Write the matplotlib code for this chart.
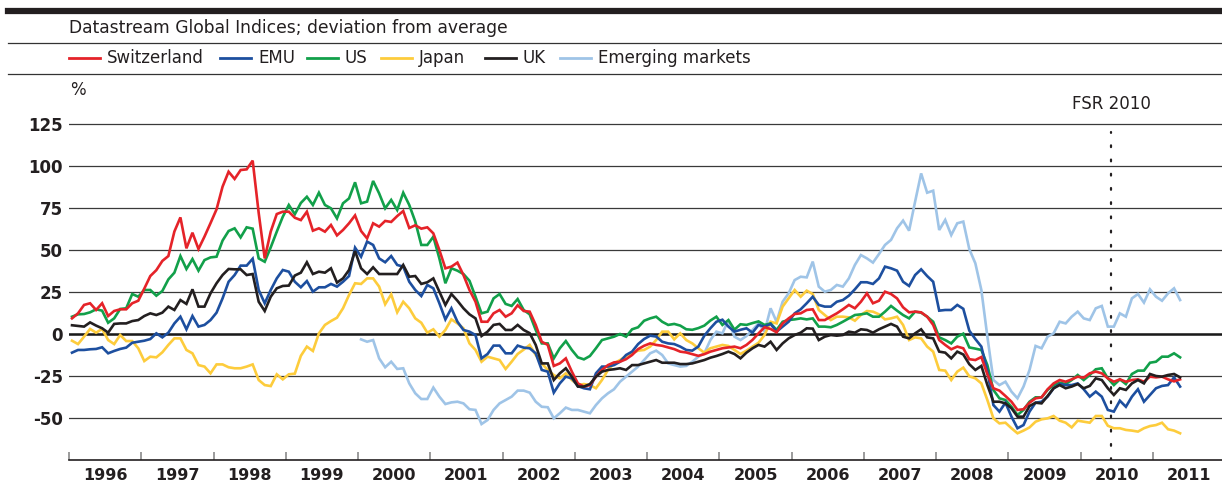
import numpy as np
import matplotlib.pyplot as plt
from matplotlib.lines import Line2D

# Monthly deviation from average (%), Datastream Global Indices
# first five series start Jan 1996, emerging markets starts Jan 2000
switzerland = [
    9.3, 12.3, 17.3, 18.3, 14.3, 18.3, 10.7, 13.7, 14.7, 14.7, 18.3, 19.8,
    27.0, 34.5, 38.0, 43.5, 46.4, 61.0, 69.4, 51.0, 60.3, 50.6, 58.0, 66.0,
    74.2, 87.7, 96.6, 92.3, 97.6, 98.0, 103.2, 72.0, 45.0, 61.0, 71.4, 72.8,
    72.8, 69.2, 67.8, 72.8, 61.5, 62.9, 60.9, 64.9, 58.7, 61.9, 65.9, 70.6,
    61.3, 56.9, 65.9, 63.9, 67.3, 66.7, 70.2, 73.2, 63.1, 64.7, 62.7, 63.5,
    59.9, 50.0, 39.1, 40.1, 42.5, 35.1, 26.2, 19.2, 7.3, 7.3, 12.3, 14.3,
    10.3, 12.3, 17.1, 13.7, 13.3, 5.4, -4.6, -6.5, -19.0, -17.5, -14.5, -22.4,
    -29.4, -31.3, -30.4, -25.4, -21.4, -18.5, -16.9, -16.5, -15.0, -12.5, -9.0, -7.0,
    -5.6, -6.5, -7.0, -8.0, -9.0, -10.5, -11.0, -12.0, -13.0, -12.0, -10.5, -9.5,
    -8.5, -8.0, -7.5, -8.5, -6.5, -3.5, 0.4, 4.0, 3.0, 1.0, 6.3, 9.3,
    11.9, 12.3, 14.3, 14.7, 8.3, 8.3, 10.3, 12.3, 14.7, 17.3, 15.3, 19.2,
    24.2, 18.3, 19.8, 25.2, 23.8, 21.2, 15.9, 12.9, 13.3, 12.9, 10.3, 5.4,
    -3.6, -6.5, -9.1, -7.5, -8.5, -15.0, -15.5, -13.7, -24.0, -32.3, -33.7, -36.9,
    -40.3, -45.2, -44.8, -40.9, -38.3, -37.7, -32.9, -29.4, -27.4, -28.4, -27.0, -25.4,
    -26.0, -23.4, -22.4, -23.4, -26.4, -28.4, -27.0, -28.4, -27.4, -27.0, -28.4, -25.4,
    -25.8, -25.4, -27.0, -28.2, -27.0,
]

emu = [
    -11.1, -9.5, -9.5, -9.1, -8.9, -7.9, -11.5, -10.1, -8.9, -8.1, -5.2, -4.6,
    -4.0, -3.0, 0.4, -2.0, 0.8, 6.3, 10.3, 2.8, 10.7, 4.4, 5.4, 8.3,
    12.7, 21.2, 31.1, 35.1, 40.7, 40.7, 44.8, 26.2, 18.3, 26.2, 33.1, 38.1,
    37.1, 31.1, 27.8, 31.5, 25.2, 27.8, 27.8, 29.8, 28.2, 31.1, 34.5, 51.4,
    46.0, 55.0, 53.0, 45.0, 42.7, 46.4, 41.1, 40.1, 31.1, 26.2, 22.6, 29.2,
    27.2, 18.3, 8.7, 15.3, 7.3, 2.4, 1.4, -0.6, -14.5, -11.9, -6.9, -6.9,
    -11.5, -11.5, -6.9, -8.1, -8.5, -11.5, -21.4, -22.4, -34.9, -29.4, -25.4, -26.4,
    -31.0, -32.3, -32.9, -23.4, -19.4, -19.4, -18.5, -16.5, -12.5, -10.5, -6.0, -3.0,
    -1.0, -1.5, -4.6, -5.6, -6.0, -7.5, -9.5, -9.9, -7.5, -1.0, 3.4, 7.3,
    8.5, 4.4, 1.4, 2.5, 3.4, 0.8, 5.4, 4.4, 6.0, 1.4, 4.4, 7.3,
    12.3, 14.7, 18.3, 22.2, 17.3, 16.3, 16.3, 19.2, 20.2, 22.8, 26.6, 30.8,
    30.8, 29.8, 33.1, 40.1, 39.1, 37.7, 31.1, 28.6, 35.1, 38.5, 34.5, 31.1,
    13.9, 14.3, 14.3, 17.3, 15.0, 2.0, -3.0, -7.5, -22.0, -42.3, -46.2, -40.9,
    -49.2, -56.1, -54.2, -46.2, -40.9, -40.3, -37.3, -32.3, -29.8, -30.4, -30.4, -29.4,
    -32.9, -37.3, -34.3, -37.3, -45.2, -46.2, -39.7, -43.3, -37.3, -32.9, -40.3, -36.3,
    -32.3, -30.9, -30.4, -25.8, -31.3,
]

us = [
    10.3, 11.7, 11.9, 12.9, 14.7, 13.9, 6.7, 9.3, 14.9, 15.3, 23.8, 22.2,
    26.2, 26.2, 22.8, 25.6, 32.5, 36.5, 46.4, 38.7, 44.6, 37.7, 44.0, 45.6,
    46.0, 55.6, 61.3, 62.9, 57.5, 63.5, 62.7, 45.0, 43.0, 51.6, 60.9, 69.8,
    76.8, 71.3, 78.0, 81.7, 76.8, 84.1, 76.8, 74.8, 68.8, 77.8, 80.7, 90.3,
    77.8, 78.8, 91.1, 83.7, 74.8, 79.8, 73.8, 84.1, 76.8, 66.9, 53.0, 53.0,
    57.9, 45.0, 30.2, 39.1, 37.7, 35.7, 31.7, 22.2, 12.3, 13.3, 21.2, 23.8,
    17.9, 16.7, 20.8, 14.3, 11.7, 2.4, -5.6, -5.6, -14.5, -8.5, -4.2, -9.5,
    -13.9, -15.1, -13.1, -8.5, -3.6, -2.6, -1.6, 0.0, -1.6, 2.8, 4.0, 7.9,
    9.3, 10.3, 7.3, 5.4, 6.0, 5.0, 2.8, 2.5, 3.5, 5.0, 8.0, 10.3,
    5.4, 8.3, 2.6, 5.8, 5.4, 6.5, 7.5, 5.4, 6.3, 2.4, 7.3, 8.3,
    8.7, 9.3, 8.7, 9.3, 4.4, 4.4, 4.0, 5.4, 7.3, 9.3, 11.3, 11.7,
    12.3, 10.3, 10.3, 13.3, 16.7, 13.9, 11.3, 9.3, 13.3, 12.7, 10.3, 7.3,
    -2.0, -3.6, -5.6, -1.6, 0.2, -8.0, -8.7, -9.5, -18.5, -33.3, -38.3, -39.3,
    -43.3, -48.2, -45.2, -40.3, -37.7, -37.7, -33.3, -30.4, -29.0, -29.8, -27.4, -24.4,
    -27.4, -24.4, -21.0, -20.4, -26.4, -30.4, -27.0, -29.8, -23.8, -21.8, -21.8, -17.1,
    -16.5, -13.5, -13.5, -11.5, -13.9,
]

japan = [
    -4.0, -6.0, -1.6, 3.0, 0.8, 3.0, -3.6, -6.0, -0.6, -4.2, -4.2, -8.5,
    -16.1, -13.5, -13.9, -10.9, -6.5, -2.6, -2.6, -9.5, -11.5, -18.5, -19.4, -23.4,
    -18.1, -18.1, -19.8, -20.4, -20.4, -19.4, -18.1, -27.4, -30.4, -31.0, -24.0, -27.0,
    -24.0, -23.6, -13.0, -7.5, -10.1, 0.4, 5.4, 7.7, 9.7, 15.3, 23.2, 30.2,
    29.8, 33.1, 33.1, 28.2, 17.7, 23.6, 12.9, 19.2, 15.3, 9.3, 6.7, 0.8,
    2.8, -1.6, 2.4, 8.7, 6.3, 3.4, -5.6, -9.5, -16.5, -13.5, -14.5, -15.5,
    -20.8, -16.5, -11.9, -9.3, -6.5, -12.5, -17.5, -21.4, -24.4, -26.4, -23.4, -27.4,
    -30.4, -29.8, -30.4, -32.3, -27.4, -21.4, -17.5, -15.5, -13.1, -11.5, -9.9, -9.5,
    -7.5, -3.6, 1.4, 1.4, -3.2, 0.4, -3.6, -5.6, -8.5, -11.1, -8.5, -7.5,
    -6.5, -7.1, -9.5, -11.9, -9.9, -7.5, -5.2, -0.6, 7.3, 6.3, 16.3, 21.2,
    26.2, 22.2, 25.8, 23.8, 14.3, 11.3, 8.3, 10.3, 10.3, 9.9, 7.9, 11.3,
    13.7, 13.3, 11.7, 8.7, 9.3, 10.3, 5.4, -3.6, -2.0, -2.6, -7.5, -10.5,
    -21.4, -21.8, -27.4, -22.4, -20.0, -25.2, -26.4, -29.4, -39.3, -50.2, -53.2, -52.8,
    -56.1, -59.1, -57.5, -55.6, -52.2, -50.8, -50.2, -48.8, -51.6, -52.8, -55.6, -51.6,
    -52.2, -52.8, -48.8, -48.8, -54.6, -56.1, -56.1, -57.1, -57.5, -58.1, -56.1, -54.8,
    -54.2, -52.8, -56.7, -57.5, -59.1,
]

uk = [
    5.2, 4.8, 4.4, 6.9, 5.0, 3.4, 0.8, 6.0, 6.3, 6.3, 7.7, 8.3,
    10.7, 12.3, 11.3, 12.7, 16.3, 14.3, 20.2, 17.9, 26.6, 16.3, 16.3, 24.2,
    30.2, 35.1, 38.7, 38.5, 38.5, 35.1, 35.7, 19.2, 13.7, 22.2, 27.2, 28.6,
    28.8, 34.8, 36.5, 42.7, 35.7, 37.1, 36.5, 39.1, 30.6, 33.1, 38.1, 49.4,
    39.1, 35.7, 39.7, 35.7, 35.7, 35.7, 35.7, 41.1, 34.1, 34.5, 29.8, 30.8,
    33.1, 25.2, 17.3, 23.8, 19.8, 15.3, 11.7, 9.3, -1.2, 1.4, 5.4, 6.0,
    2.4, 2.4, 5.4, 2.4, 0.5, -6.5, -17.5, -17.5, -27.4, -23.4, -20.4, -25.4,
    -31.3, -31.3, -29.8, -25.4, -22.4, -21.4, -21.0, -20.4, -21.4, -18.5, -18.5, -17.5,
    -16.5, -15.5, -17.1, -17.1, -17.1, -17.9, -17.9, -17.5, -16.5, -15.5, -14.1, -13.1,
    -11.9, -10.5, -11.9, -14.5, -11.1, -8.5, -6.5, -7.5, -4.6, -9.5, -5.6, -2.6,
    -0.6, 0.8, 3.4, 3.2, -3.6, -1.6, -0.6, -1.0, -0.6, 1.4, 0.8, 2.8,
    2.4, 0.8, 2.8, 4.4, 6.0, 4.4, -1.6, -2.6, 0.4, 2.8, -2.0, -2.6,
    -10.5, -11.1, -14.5, -10.5, -12.2, -18.0, -21.4, -19.0, -30.4, -40.3, -40.3, -41.3,
    -44.2, -49.2, -49.2, -42.9, -40.9, -41.3, -36.9, -32.3, -30.4, -32.3, -31.3, -29.8,
    -32.3, -30.9, -26.4, -27.4, -32.3, -36.3, -32.3, -33.3, -29.4, -27.4, -29.4, -23.8,
    -25.0, -25.4, -24.4, -23.8, -25.8,
]

emerging = [
    -3.2, -4.6, -3.6, -14.5, -19.8, -16.5, -20.8, -20.4, -29.4, -35.3, -38.7, -38.7,
    -31.9, -37.3, -41.7, -40.7, -40.3, -41.3, -44.8, -45.2, -53.6, -51.2, -45.2, -41.3,
    -39.3, -37.3, -33.7, -33.7, -34.9, -40.3, -43.3, -43.6, -50.2, -47.2, -43.8, -45.2,
    -45.2, -46.2, -47.2, -42.3, -38.3, -35.3, -32.9, -28.4, -25.4, -22.4, -19.4, -15.5,
    -11.5, -9.9, -12.5, -17.5, -18.5, -19.4, -19.0, -16.5, -13.5, -11.5, -3.6, 1.4,
    0.4, 8.3, -1.6, -3.6, -1.2, 2.4, 6.3, 1.4, 15.3, 7.3, 19.2, 24.2,
    32.1, 34.1, 33.7, 43.1, 28.2, 25.2, 26.2, 29.2, 28.2, 33.1, 41.1, 47.0,
    45.0, 42.5, 47.6, 53.0, 56.0, 62.9, 67.5, 61.5, 78.8, 95.6, 84.1, 85.3,
    61.9, 67.9, 58.9, 65.9, 66.9, 50.5, 42.1, 26.2, -1.6, -27.4, -30.4, -28.4,
    -34.3, -38.3, -31.3, -21.4, -7.1, -8.5, -1.6, 0.4, 7.3, 6.3, 10.3, 13.3,
    9.3, 8.3, 15.3, 16.7, 4.4, 4.4, 12.3, 10.3, 21.2, 23.8, 18.7, 26.6,
    22.2, 19.8, 24.2, 27.2, 20.2,
]

series_names = ["Switzerland", "EMU", "US", "Japan", "UK", "Emerging markets"]
series_values = [switzerland, emu, us, japan, uk, emerging]
series_start = [1996, 1996, 1996, 1996, 1996, 2000]   # year of first monthly value
series_colors = ["#e52329", "#1d4f9f", "#12a04a", "#fdcc3c", "#231f20", "#9fc4e7"]

years = list(range(1996, 2012))
y_ticks = [-50, -25, 0, 25, 50, 75, 100, 125]
fsr_date = 2010.42          # publication of the 2010 Financial Stability Report

W, H = 1222, 486
fig = plt.figure(figsize=(W / 100, H / 100), dpi=100)
ax = fig.add_axes([69 / W, 26 / H, 1153 / W, 344.4 / H])


def fx(px):
    return px / W


def fy(py):
    return 1 - py / H


# header: thick bar, subtitle, legend, separator lines
fig.add_artist(Line2D([fx(8), 1], [fy(11), fy(11)], color="#231f20", lw=4.5))
fig.text(fx(69), fy(28), "Datastream Global Indices; deviation from average",
         fontsize=12.3, va="center", ha="left", color="#231f20")
for yy in (43, 74):
    fig.add_artist(Line2D([fx(8), 1], [fy(yy), fy(yy)], color="#333333", lw=0.9))

legend_x = [69, 220, 307, 381, 485, 560]
for name, color, lx in zip(series_names, series_colors, legend_x):
    fig.add_artist(Line2D([fx(lx), fx(lx + 31)], [fy(58), fy(58)], color=color, lw=2.0))
    fig.text(fx(lx + 38), fy(58), name, fontsize=12, va="center", ha="left", color="#231f20")

fig.text(fx(70), fy(90), "%", fontsize=12, va="center", ha="left", color="#231f20")

# grid and zero line
ax.set_yticks(y_ticks)
ax.yaxis.grid(True, color="#3a3a3a", lw=0.9)
ax.set_axisbelow(True)
ax.axhline(0, color="#1a1a1a", lw=1.8, zorder=1.5)

# series: emerging markets drawn first so the others sit above it
order = [5, 3, 2, 1, 0, 4]
for k in order:
    vals = np.array(series_values[k])
    t = series_start[k] + (np.arange(len(vals)) + 0.5) / 12
    ax.plot(t, vals, color=series_colors[k], lw=1.9, zorder=3, solid_joinstyle="miter")

# FSR 2010 marker
ax.plot([fsr_date, fsr_date], [-75, 120], color="#231f20", lw=1.6,
        linestyle=(0, (0.8, 5.6)), dash_capstyle="round", zorder=4)
ax.text(fsr_date, 137, "FSR 2010", fontsize=12, ha="center", va="center",
        color="#231f20", clip_on=False)

ax.set_xlim(1996, 2011.955)
ax.set_ylim(-75, 130)

for side in ("left", "right", "top"):
    ax.spines[side].set_visible(False)
ax.spines["bottom"].set_color("#231f20")
ax.spines["bottom"].set_linewidth(1.2)

ax.set_yticklabels([str(v) for v in y_ticks], fontsize=12, fontweight="bold", color="#231f20")
ax.tick_params(axis="y", length=0, pad=4.5)

ax.set_xticks(years)
ax.set_xticklabels([])
ax.set_xticks([y + 0.5 for y in years], minor=True)
ax.set_xticklabels([str(y) for y in years], minor=True, fontsize=11.5,
                   fontweight="bold", color="#231f20")
ax.tick_params(axis="x", which="major", direction="in", length=6, width=1.2, color="#8a8a8a")
ax.tick_params(axis="x", which="minor", length=0, pad=5.5)

fig.savefig("out.png", dpi=100)
